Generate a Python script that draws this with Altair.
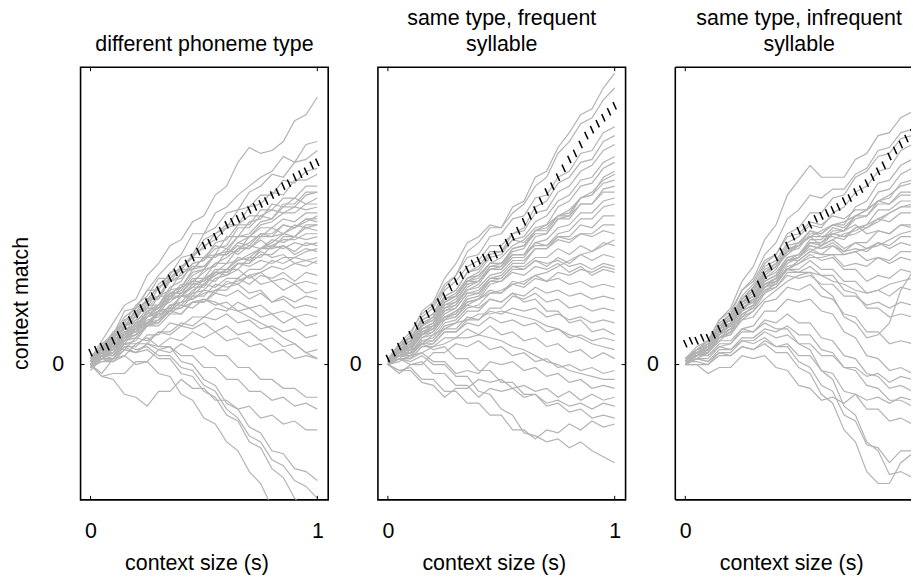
import altair as alt
import pandas as pd

# x grid of the individual (grey) curves and of the mean (black) curve, in seconds
X_GRAY = [0.0, 0.05, 0.1, 0.15, 0.2, 0.25, 0.3, 0.35, 0.4, 0.45, 0.5,
          0.55, 0.6, 0.65, 0.7, 0.75, 0.8, 0.85, 0.9, 0.95, 1.0]
X_MEAN = [0.0, 0.025, 0.05, 0.075, 0.1, 0.125, 0.15, 0.175, 0.2, 0.225, 0.25,
          0.275, 0.3, 0.325, 0.35, 0.375, 0.4, 0.425, 0.45, 0.475, 0.5,
          0.525, 0.55, 0.575, 0.6, 0.625, 0.65, 0.675, 0.7, 0.725, 0.75,
          0.775, 0.8, 0.825, 0.85, 0.875, 0.9, 0.925, 0.95, 0.975, 1.0]

# context match (arbitrary units)
P1_LINES = [
    [2, 8, 14, 20, 22, 30, 34, 40, 42, 48, 50, 57, 60, 68, 73, 71, 72, 75, 82, 84, 90],
    [1, 7, 10, 18, 19, 25, 30, 34, 37, 44, 44, 51, 53, 57, 60, 63, 65, 70, 68, 74, 75],
    [2, 3, 10, 12, 19, 21, 27, 30, 36, 37, 44, 46, 51, 52, 58, 60, 64, 63, 68, 69, 72],
    [0, 6, 7, 13, 16, 22, 23, 29, 32, 37, 39, 44, 46, 52, 53, 57, 57, 62, 61, 65, 66],
    [3, 5, 11, 14, 20, 23, 29, 29, 33, 36, 42, 44, 47, 47, 53, 54, 58, 57, 62, 62, 64],
    [1, 4, 6, 12, 13, 18, 20, 26, 28, 34, 35, 41, 42, 47, 47, 52, 52, 56, 56, 60, 60],
    [-1, 5, 8, 15, 17, 22, 22, 28, 30, 34, 35, 39, 40, 46, 46, 50, 49, 54, 54, 58, 58],
    [2, 5, 10, 10, 17, 19, 26, 28, 32, 32, 36, 37, 43, 43, 48, 49, 54, 53, 56, 54, 56],
    [0, 3, 5, 11, 12, 17, 19, 23, 25, 30, 32, 37, 37, 41, 43, 47, 48, 51, 51, 54, 54],
    [1, 6, 10, 16, 19, 25, 25, 31, 32, 36, 36, 40, 39, 43, 43, 46, 46, 49, 48, 51, 51],
    [-2, 2, 4, 9, 12, 18, 20, 25, 26, 31, 32, 37, 37, 41, 40, 44, 43, 47, 46, 49, 49],
    [2, 6, 11, 13, 18, 19, 23, 23, 27, 27, 32, 33, 38, 38, 43, 43, 46, 44, 47, 46, 47],
    [0, 4, 7, 13, 14, 19, 19, 24, 24, 29, 29, 34, 34, 39, 39, 43, 43, 44, 43, 46, 45],
    [1, 3, 8, 10, 15, 17, 23, 25, 31, 32, 36, 36, 39, 37, 40, 39, 42, 41, 43, 42, 43],
    [3, 4, 7, 8, 13, 14, 18, 19, 23, 24, 29, 28, 32, 32, 36, 36, 40, 39, 41, 40, 41],
    [-1, 3, 4, 9, 10, 16, 18, 23, 23, 26, 26, 31, 31, 34, 34, 37, 37, 40, 38, 41, 40],
    [0, 5, 7, 13, 15, 21, 23, 28, 29, 33, 33, 37, 37, 40, 39, 42, 39, 40, 37, 39, 38],
    [2, 2, 7, 9, 14, 14, 18, 18, 23, 23, 27, 26, 29, 29, 32, 32, 35, 34, 36, 35, 36],
    [1, 6, 9, 15, 16, 20, 20, 24, 24, 28, 28, 32, 32, 36, 35, 38, 36, 37, 34, 35, 34],
    [0, 3, 4, 8, 9, 13, 13, 17, 17, 21, 21, 25, 25, 29, 27, 30, 29, 31, 28, 31, 30],
    [-1, 4, 6, 11, 11, 16, 17, 22, 23, 27, 27, 31, 30, 32, 29, 31, 28, 29, 27, 28, 27],
    [2, 3, 7, 7, 12, 13, 18, 19, 23, 22, 25, 24, 28, 27, 30, 27, 28, 25, 27, 24, 25],
    [0, 2, 2, 7, 8, 13, 14, 18, 17, 21, 21, 24, 23, 25, 22, 24, 21, 23, 21, 23, 22],
    [1, 5, 5, 9, 10, 14, 14, 19, 19, 23, 23, 27, 26, 27, 24, 25, 21, 22, 19, 20, 19],
    [-1, 1, 2, 6, 6, 10, 10, 14, 13, 16, 16, 19, 18, 21, 19, 20, 17, 18, 16, 17, 16],
    [2, 4, 9, 9, 13, 13, 17, 17, 20, 19, 22, 20, 21, 18, 19, 16, 17, 14, 16, 13, 14],
    [0, -3, 2, 3, 7, 7, 11, 11, 14, 13, 16, 15, 17, 14, 15, 12, 13, 11, 12, 9, 10],
    [1, 2, 6, 5, 9, 8, 11, 10, 13, 12, 14, 11, 13, 10, 11, 8, 9, 6, 7, 4, 5],
    [-1, 1, 1, 5, 4, 7, 6, 9, 8, 11, 9, 11, 8, 9, 6, 7, 4, 5, 2, 3, 2],
    [0, -4, -3, -3, 1, 1, 5, 4, 7, 5, 6, 3, 3, -1, -1, -5, -5, -8, -8, -11, -11],
    [1, 3, 2, 5, 4, 7, 5, 6, 3, 3, -1, -1, -5, -5, -9, -9, -12, -11, -14, -13, -15],
    [0, -4, -5, -10, -11, -14, -9, -9, -5, -8, -8, -12, -12, -15, -14, -18, -17, -20, -19, -22, -22],
    [0, 3, 3, 7, 7, 9, 6, 6, 1, 0, -5, -7, -13, -15, -21, -23, -29, -30, -35, -36, -39],
    [1, 4, 4, 7, 5, 6, 3, 3, -1, -2, -7, -9, -15, -18, -24, -26, -32, -34, -39, -41, -45],
    [0, 2, 1, 3, 0, 1, -3, -4, -10, -12, -18, -20, -26, -29, -36, -40, -48, -52, -59, -62, -68],
    [2, 4, 3, 6, 4, 5, 2, 2, -3, -4, -9, -11, -17, -19, -26, -28, -35, -38, -45, -48, -54],
    [0, 4, 5, 10, 12, 18, 19, 24, 26, 32, 33, 37, 38, 43, 44, 48, 49, 53, 53, 57, 58],
    [1, 3, 3, 8, 9, 14, 15, 20, 20, 24, 25, 29, 30, 34, 34, 39, 39, 43, 43, 47, 47],
    [1, 5, 9, 13, 18, 22, 26, 29, 33, 36, 40, 42, 46, 47, 50, 50, 52, 51, 53, 52, 53],
    [0, 2, 7, 9, 14, 16, 20, 22, 26, 28, 31, 34, 36, 39, 41, 44, 44, 47, 46, 49, 48],
    [2, 4, 8, 10, 14, 16, 19, 21, 24, 26, 29, 31, 34, 35, 37, 39, 40, 42, 42, 44, 44],
    [0, 3, 5, 9, 11, 15, 16, 20, 21, 25, 27, 30, 32, 35, 36, 39, 41, 44, 46, 48, 50],
    [-1, 2, 6, 8, 12, 14, 17, 18, 21, 22, 24, 25, 27, 28, 30, 31, 33, 32, 34, 33, 35],
    [1, 4, 6, 10, 12, 16, 18, 22, 23, 27, 28, 31, 31, 34, 33, 35, 34, 36, 36, 38, 39],
    [2, 3, 6, 8, 10, 13, 15, 18, 19, 21, 22, 21, 19, 18, 16, 14, 12, 9, 7, 4, 2],
]
P2_LINES = [
    [0, 6, 10, 18, 21, 29, 34, 41, 43, 47, 46, 53, 55, 63, 65, 73, 78, 84, 86, 93, 98],
    [1, 7, 11, 17, 20, 27, 30, 38, 41, 46, 46, 51, 54, 60, 63, 71, 75, 81, 83, 89, 93],
    [0, 5, 8, 16, 19, 26, 30, 36, 37, 43, 44, 49, 50, 56, 57, 63, 65, 71, 72, 78, 80],
    [1, 6, 9, 15, 17, 25, 28, 33, 35, 40, 40, 44, 46, 53, 55, 61, 63, 68, 69, 75, 77],
    [0, 4, 7, 13, 16, 23, 25, 31, 32, 37, 38, 44, 45, 51, 52, 58, 60, 65, 67, 72, 74],
    [2, 7, 9, 15, 17, 22, 24, 29, 31, 36, 37, 42, 43, 48, 50, 55, 57, 62, 63, 68, 70],
    [0, 5, 6, 12, 14, 21, 23, 29, 30, 34, 34, 38, 39, 45, 47, 53, 55, 60, 61, 66, 68],
    [1, 4, 6, 11, 12, 18, 20, 26, 28, 33, 33, 37, 37, 43, 44, 49, 50, 56, 57, 63, 65],
    [0, 6, 8, 15, 17, 23, 25, 31, 33, 38, 38, 42, 41, 45, 45, 50, 51, 56, 57, 61, 62],
    [2, 5, 7, 12, 14, 19, 20, 25, 27, 32, 33, 39, 40, 44, 44, 49, 49, 54, 54, 59, 60],
    [0, 4, 5, 11, 13, 19, 21, 27, 28, 32, 32, 36, 36, 41, 42, 46, 47, 51, 51, 55, 56],
    [1, 6, 8, 13, 15, 21, 23, 28, 29, 34, 34, 37, 37, 40, 40, 44, 45, 49, 49, 53, 54],
    [0, 3, 4, 9, 11, 16, 17, 23, 24, 29, 30, 34, 34, 39, 39, 43, 43, 47, 46, 50, 50],
    [1, 5, 7, 13, 15, 20, 21, 25, 26, 30, 31, 35, 35, 39, 39, 42, 41, 44, 44, 47, 47],
    [0, 4, 5, 10, 12, 17, 19, 24, 25, 29, 29, 33, 33, 36, 36, 39, 37, 40, 38, 41, 40],
    [1, 3, 4, 9, 10, 15, 16, 21, 22, 27, 28, 32, 32, 35, 33, 36, 34, 37, 35, 37, 36],
    [0, 4, 6, 12, 13, 18, 19, 24, 24, 28, 28, 31, 30, 33, 32, 34, 31, 33, 30, 32, 31],
    [0, 3, 3, 8, 9, 14, 15, 19, 20, 24, 24, 28, 27, 30, 28, 29, 27, 28, 26, 27, 26],
    [1, 5, 6, 11, 12, 16, 16, 20, 19, 22, 21, 24, 23, 26, 24, 25, 23, 24, 22, 23, 22],
    [0, 2, 2, 6, 7, 11, 11, 15, 15, 19, 19, 23, 22, 24, 21, 22, 19, 20, 18, 19, 18],
    [0, 3, 4, 8, 8, 12, 12, 16, 15, 18, 17, 19, 18, 19, 16, 17, 15, 16, 14, 15, 14],
    [1, 4, 3, 7, 7, 11, 11, 14, 13, 16, 14, 15, 13, 14, 11, 12, 9, 10, 8, 9, 8],
    [0, 2, 2, 6, 6, 9, 9, 12, 10, 13, 10, 11, 8, 9, 6, 7, 4, 5, 2, 4, 2],
    [0, -3, 0, 0, 4, 4, 7, 6, 8, 5, 6, 3, 4, 1, 2, -1, 0, -2, -1, -3, -2],
    [1, 3, 2, 4, 1, 1, -3, -2, -3, 1, 0, 1, -2, -1, -4, -3, -6, -5, -8, -7, -8],
    [0, -2, -2, -6, -7, -11, -8, -8, -5, -6, -5, -8, -7, -9, -8, -11, -9, -12, -10, -12, -11],
    [0, 2, 0, 1, -3, -3, -7, -7, -11, -8, -9, -8, -11, -10, -13, -12, -14, -13, -15, -13, -14],
    [1, 4, 4, 7, 5, 6, 2, 2, -2, -2, -6, -6, -10, -10, -14, -13, -16, -15, -18, -17, -18],
    [0, -2, -1, -5, -5, -9, -9, -13, -13, -17, -17, -22, -22, -25, -22, -23, -20, -22, -19, -21, -20],
    [0, 2, 1, 3, 0, 0, -4, -4, -9, -10, -15, -17, -23, -24, -26, -25, -28, -26, -29, -31, -33],
    [0, 3, 3, 7, 8, 13, 14, 18, 18, 22, 21, 24, 21, 22, 18, 18, 14, 15, 11, 12, 10],
    [0, 5, 7, 14, 16, 22, 23, 28, 28, 32, 32, 37, 37, 41, 40, 43, 42, 44, 43, 45, 44],
    [1, 4, 5, 10, 11, 16, 17, 22, 23, 28, 29, 33, 32, 35, 34, 35, 33, 34, 32, 34, 33],
    [0, 4, 6, 12, 14, 20, 22, 27, 28, 33, 34, 39, 40, 45, 46, 50, 50, 54, 54, 58, 58],
    [1, 5, 8, 13, 16, 21, 23, 28, 30, 34, 36, 40, 42, 46, 47, 50, 52, 56, 58, 62, 64],
    [0, 3, 6, 10, 12, 16, 18, 21, 22, 25, 24, 27, 26, 29, 28, 31, 30, 32, 31, 33, 32],
    [1, 4, 7, 10, 13, 15, 18, 20, 22, 24, 25, 27, 28, 30, 31, 33, 35, 37, 38, 40, 42],
    [0, 2, 5, 7, 10, 12, 14, 15, 17, 17, 18, 17, 16, 15, 13, 12, 10, 9, 7, 6, 5],
    [0, 1, 3, 4, 6, 7, 9, 9, 10, 9, 8, 6, 5, 3, 1, 0, -2, -3, -4, -5, -5],
]
P3_LINES = [
    [2, 6, 8, 15, 19, 28, 33, 42, 47, 57, 62, 67, 63, 63, 63, 69, 71, 77, 78, 83, 85],
    [0, 5, 7, 14, 17, 25, 29, 37, 41, 49, 52, 57, 56, 59, 59, 64, 66, 72, 73, 78, 79],
    [1, 4, 6, 13, 16, 23, 27, 34, 37, 44, 46, 51, 51, 56, 57, 63, 65, 70, 71, 76, 77],
    [0, 3, 5, 11, 14, 22, 26, 33, 35, 41, 43, 47, 46, 51, 53, 58, 60, 65, 66, 72, 74],
    [2, 5, 6, 12, 15, 22, 25, 32, 34, 40, 41, 45, 44, 47, 47, 53, 55, 61, 62, 67, 69],
    [0, 4, 5, 11, 13, 20, 23, 30, 33, 39, 40, 43, 40, 44, 45, 50, 52, 58, 59, 64, 66],
    [1, 3, 4, 10, 13, 19, 22, 28, 30, 36, 37, 41, 41, 45, 45, 49, 50, 55, 56, 61, 62],
    [0, 4, 6, 12, 14, 21, 24, 31, 33, 38, 39, 44, 44, 47, 46, 50, 50, 54, 54, 58, 58],
    [2, 5, 7, 13, 15, 21, 23, 29, 32, 38, 40, 45, 43, 43, 42, 46, 47, 52, 52, 55, 55],
    [0, 3, 4, 10, 12, 18, 20, 27, 29, 35, 36, 41, 41, 44, 43, 46, 46, 49, 48, 51, 51],
    [1, 5, 6, 12, 14, 21, 23, 29, 31, 36, 37, 41, 40, 42, 39, 41, 41, 45, 44, 47, 47],
    [0, 4, 5, 10, 12, 18, 20, 26, 28, 34, 36, 40, 39, 41, 38, 39, 38, 41, 40, 43, 43],
    [2, 4, 5, 11, 13, 19, 21, 27, 29, 35, 36, 39, 37, 37, 33, 34, 33, 36, 35, 38, 38],
    [0, 3, 4, 9, 11, 17, 19, 25, 27, 33, 34, 37, 35, 36, 32, 32, 28, 30, 29, 32, 31],
    [1, 5, 6, 12, 14, 19, 21, 26, 27, 32, 32, 35, 32, 32, 28, 28, 24, 25, 23, 26, 25],
    [0, 3, 4, 9, 10, 16, 18, 24, 26, 31, 31, 33, 30, 30, 25, 24, 19, 19, 16, 17, 16],
    [1, 4, 4, 9, 10, 15, 16, 21, 22, 26, 25, 27, 23, 22, 17, 16, 11, 11, 7, 8, 7],
    [0, 2, 2, 6, 7, 12, 13, 18, 18, 22, 21, 22, 18, 17, 11, 9, 3, 2, -2, -1, -3],
    [2, 4, 3, 7, 7, 11, 11, 15, 14, 17, 14, 14, 9, 8, 3, 2, -3, -4, -8, -7, -9],
    [0, 2, 1, 5, 5, 9, 9, 12, 11, 13, 10, 10, 5, 4, -1, -2, -7, -8, -12, -12, -14],
    [1, 1, 0, 3, 3, 6, 5, 8, 6, 7, 3, 3, -2, -3, -9, -10, -15, -15, -19, -18, -20],
    [0, 3, 3, 6, 5, 8, 7, 9, 6, 6, 1, -1, -7, -9, -17, -19, -27, -28, -33, -29, -29],
    [2, 4, 4, 8, 8, 12, 11, 14, 12, 12, 7, 5, -2, -5, -14, -17, -26, -29, -37, -36, -38],
    [0, 2, 1, 4, 3, 6, 5, 7, 4, 4, -1, -3, -10, -13, -22, -26, -36, -40, -40, -33, -30],
    [1, 4, 5, 11, 13, 19, 21, 27, 28, 32, 31, 31, 26, 23, 16, 14, 9, 10, 14, 25, 31],
    [0, 3, 5, 11, 13, 19, 21, 27, 29, 35, 37, 42, 42, 46, 45, 47, 44, 45, 44, 47, 46],
    [1, 5, 7, 13, 15, 21, 23, 28, 30, 35, 35, 38, 37, 40, 38, 41, 39, 41, 39, 41, 40],
    [0, 4, 6, 12, 14, 20, 22, 28, 30, 35, 36, 40, 39, 40, 37, 38, 35, 36, 34, 36, 35],
    [2, 4, 4, 9, 11, 17, 19, 25, 26, 30, 29, 30, 27, 27, 23, 23, 20, 21, 19, 21, 20],
    [0, 0, 0, 4, 4, 8, 8, 11, 9, 10, 7, 7, 3, 3, -1, -1, -4, -3, -6, -4, -5],
    [1, 5, 8, 15, 18, 25, 28, 35, 37, 43, 44, 48, 47, 50, 49, 52, 52, 55, 54, 57, 57],
    [0, 0, -3, -1, -1, 3, 2, 3, -1, -2, -7, -8, -12, -11, -13, -10, -12, -11, -13, -11, -12],
    [1, 4, 7, 12, 16, 21, 25, 30, 33, 37, 40, 43, 45, 47, 48, 50, 52, 55, 57, 60, 61],
    [0, 3, 6, 10, 14, 18, 22, 26, 29, 32, 34, 36, 36, 37, 37, 38, 39, 40, 42, 44, 45],
    [2, 5, 8, 13, 17, 22, 26, 31, 34, 38, 41, 43, 43, 44, 43, 44, 46, 48, 51, 53, 54],
    [0, 2, 4, 8, 11, 15, 18, 22, 25, 28, 30, 31, 30, 28, 27, 25, 24, 25, 27, 28, 29],
    [1, 3, 5, 9, 12, 16, 20, 24, 28, 32, 35, 38, 40, 42, 44, 45, 47, 49, 51, 53, 53],
]

P1_MEAN = [4, 5, 6, 6, 8, 10, 13, 15, 17, 19, 21, 23, 25, 27, 29, 31, 32, 34, 36, 38, 40,
           41, 43, 45, 47, 48, 49, 50, 52, 53, 54, 55, 57, 58, 60, 61, 63, 64, 65, 67, 68]
P2_MEAN = [2, 4, 6, 8, 10, 13, 15, 17, 19, 21, 23, 26, 28, 30, 32, 34, 35, 36, 36, 37, 39,
           41, 43, 45, 48, 50, 52, 55, 58, 60, 63, 66, 69, 71, 74, 77, 79, 81, 83, 85, 87]
P3_MEAN = [7, 8, 8, 9, 9, 10, 12, 14, 16, 18, 20, 22, 24, 27, 30, 33, 36, 38, 40, 43, 45,
           46, 47, 49, 50, 51, 52, 53, 55, 56, 58, 59, 61, 63, 65, 67, 70, 72, 74, 76, 78]

TITLES = [
    ["different phoneme type"],
    ["same type, frequent", "syllable"],
    ["same type, infrequent", "syllable"],
]
X_TICKS = [0, 1]
Y_TICKS = [0]
X_DOMAIN = [-0.044, 1.048]
X_DOMAIN_CUT = [-0.044, 0.995]   # third panel runs off the right edge of the figure
Y_DOMAIN = [-45.5, 100]

FONT = "Liberation Sans"
FS = 21.5
W, W_CUT, H = 249, 237, 435
GREY = "#b3b3b3"
FRAME = 1.6


def panel(lines, mean, title, first=False, cut=False):
    width = W_CUT if cut else W
    xticks = X_TICKS[:1] if cut else X_TICKS
    rows = []
    for k, ln in enumerate(lines):
        for x, y in zip(X_GRAY, ln):
            rows.append({"line": k, "x": x, "y": y})
    gray_df = pd.DataFrame(rows)
    mean_df = pd.DataFrame({"x": X_MEAN, "y": mean})
    xt_df = pd.DataFrame({"x": xticks})
    yt_df = pd.DataFrame({"y": Y_TICKS})

    xs = alt.Scale(domain=X_DOMAIN_CUT if cut else X_DOMAIN, nice=False, zero=False)
    ys = alt.Scale(domain=Y_DOMAIN, nice=False, zero=False)
    xaxis = alt.Axis(values=xticks, format="d", title="context size (s)", grid=False,
                     ticks=False, tickSize=0, domain=False, labelPadding=21,
                     titleX=W / 2 - 8, titleY=70, titleAlign="center",
                     titleBaseline="alphabetic",
                     labelFont=FONT, titleFont=FONT, labelFontSize=FS, titleFontSize=FS,
                     labelColor="black", titleColor="black", titleFontWeight="normal")
    if first:
        yaxis = alt.Axis(values=Y_TICKS, format="d", title="context match", grid=False,
                         ticks=False, tickSize=0, domain=False, labelPadding=17,
                         titleX=-53, titleY=237, titleAngle=270, titleBaseline="alphabetic",
                         titleAlign="center",
                         labelFont=FONT, titleFont=FONT, labelFontSize=FS, titleFontSize=FS,
                         labelColor="black", titleColor="black", titleFontWeight="normal")
    else:
        yaxis = alt.Axis(values=Y_TICKS, format="d", title=None, grid=False,
                         ticks=False, tickSize=0, domain=False, labelPadding=17,
                         labelFont=FONT, labelFontSize=FS, labelColor="black")

    X = lambda: alt.X("x:Q", scale=xs, axis=xaxis)
    Y = lambda: alt.Y("y:Q", scale=ys, axis=yaxis)

    gray = alt.Chart(gray_df).mark_line(color=GREY, strokeWidth=1.2, clip=True).encode(
        x=X(), y=Y(), detail="line:N")
    black = alt.Chart(mean_df).mark_point(
        shape="M-0.45,-1L0.45,1", size=55, filled=False, color="black",
        strokeWidth=1.5, opacity=1, clip=True).encode(x=X(), y=Y())
    tb = alt.Chart(xt_df).mark_rule(color="black", strokeWidth=1).encode(
        x=X(), y=alt.value(H), y2=alt.value(H - 4))
    tt = alt.Chart(xt_df).mark_rule(color="black", strokeWidth=1).encode(
        x=X(), y=alt.value(0), y2=alt.value(4))
    tl = alt.Chart(yt_df).mark_rule(color="black", strokeWidth=1).encode(
        y=Y(), x=alt.value(0), x2=alt.value(4))
    layers = [gray, black, tb, tt, tl]
    if cut:
        # frame without its right side, which lies beyond the figure edge
        fl = alt.Chart(yt_df).mark_rule(color="black", strokeWidth=FRAME).encode(
            x=alt.value(0), y=alt.value(0), y2=alt.value(H))
        ftop = alt.Chart(yt_df).mark_rule(color="black", strokeWidth=FRAME).encode(
            x=alt.value(0), x2=alt.value(width), y=alt.value(0))
        fbot = alt.Chart(yt_df).mark_rule(color="black", strokeWidth=FRAME).encode(
            x=alt.value(0), x2=alt.value(width), y=alt.value(H))
        layers += [fl, ftop, fbot]
    else:
        tr = alt.Chart(yt_df).mark_rule(color="black", strokeWidth=1).encode(
            y=Y(), x=alt.value(width), x2=alt.value(width - 4))
        layers.append(tr)

    props = dict(
        width=width, height=H,
        title=alt.TitleParams(text=title, fontSize=FS, font=FONT, fontWeight="normal",
                              color="black", anchor="middle", offset=11, lineHeight=26,
                              dx=(W - width) / 2),
    )
    if cut:
        props["view"] = alt.ViewBackground(stroke="transparent")
    return alt.layer(*layers).properties(**props)


chart = alt.HConcatChart(
    hconcat=[
        panel(P1_LINES, P1_MEAN, TITLES[0], first=True),
        panel(P2_LINES, P2_MEAN, TITLES[1]),
        panel(P3_LINES, P3_MEAN, TITLES[2], cut=True),
    ],
    spacing=50,
    bounds="flush",
    padding={"left": 10, "top": 5, "right": 0, "bottom": 0},
    background="white",
).configure_view(
    stroke="black", strokeWidth=FRAME
)

chart.save("out.html", embed_options={"renderer": "svg", "actions": False})
